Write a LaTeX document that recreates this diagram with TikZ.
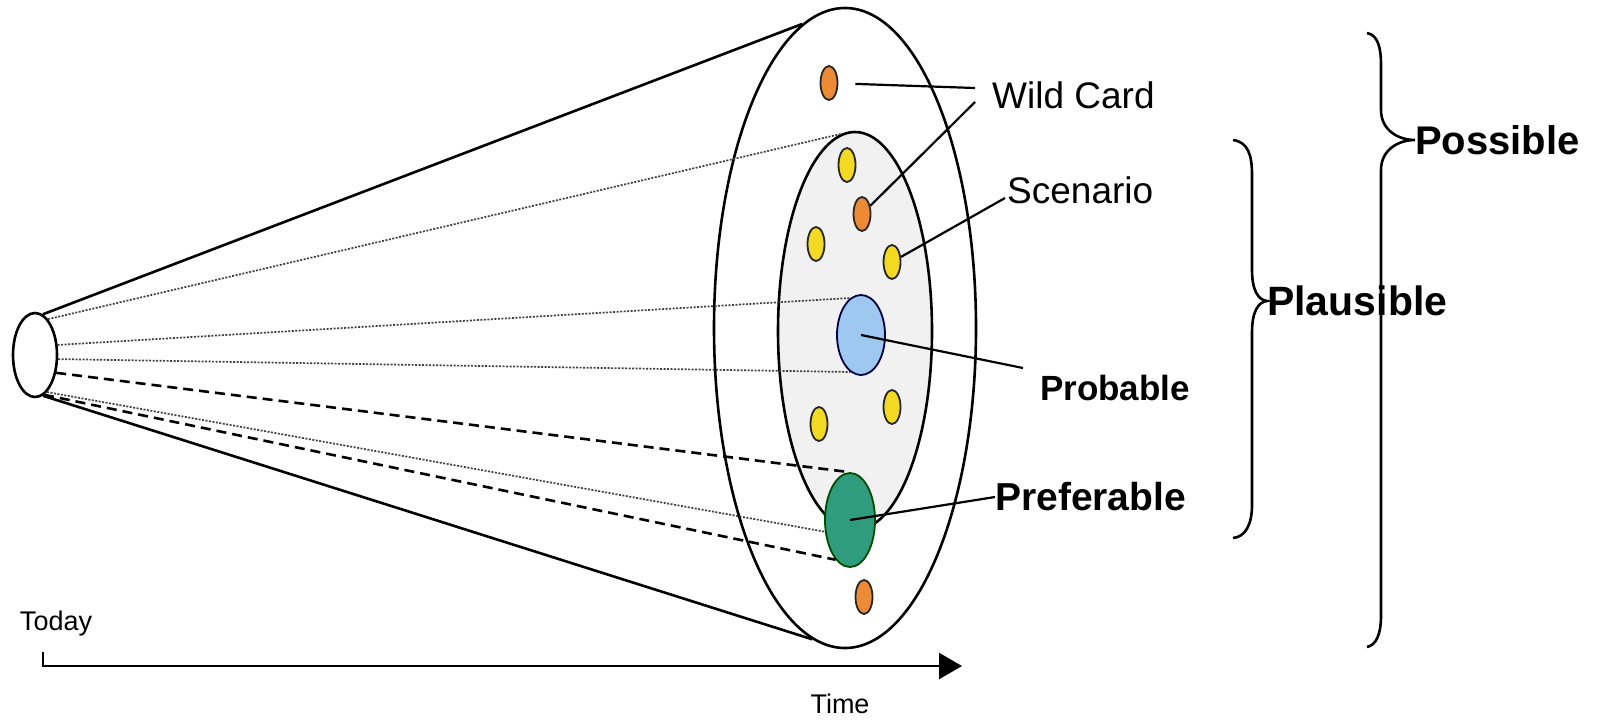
\documentclass[tikz,border=0pt]{standalone}
\usepackage{fontspec}
\setmainfont{Liberation Sans}
\usetikzlibrary{shapes.geometric}
\usetikzlibrary{arrows.meta}
\definecolor{dotorange}{HTML}{EC8A36}
\definecolor{dotyellow}{HTML}{F3D922}
\definecolor{probblue}{HTML}{9EC8F0}
\definecolor{prefgreen}{HTML}{2F9C7E}
\definecolor{innergray}{HTML}{F1F1F1}
\tikzset{rim/.style={ellipse, draw, line width=2.6pt, inner sep=0pt},
 disc/.style={ellipse, draw=black!85, line width=1.8pt, inner sep=0pt,
  minimum width=17pt, minimum height=34pt},
 wilddot/.style={disc, fill=dotorange},
 scendot/.style={disc, fill=dotyellow},
 lbl/.style={inner sep=0pt, anchor=west, font=\fontsize{37}{40}\selectfont},
 blbl/.style={inner sep=0pt, anchor=west},
 fine/.style={dash pattern=on 2pt off 1.5pt, line width=1.7pt, black!75},
 pathdash/.style={dash pattern=on 10pt off 6pt, line width=2.6pt},
 leader/.style={line width=2.2pt},
 bracket/.style={line width=2.6pt},
 }

\begin{document}
\begin{tikzpicture}[x=1pt, y=-1pt]
        \useasboundingbox[fill=white] (0,0) rectangle (1602,721);

        % the cone of futures
        \node[rim, fill=white, minimum width=262pt, minimum height=640pt] (outer) at (845,328) {};
        \node[rim, fill=innergray, minimum width=154pt, minimum height=398pt] (inner) at (855,331) {};
        \node[rim, minimum width=44pt, minimum height=84pt] (now) at (35,355) {};
        \draw[line width=2.6pt] (now.79) -- (outer.98);
        \draw[line width=2.6pt] (now.281) -- (outer.264);

        \node[disc, fill=probblue, draw=black!75!blue, minimum width=48pt, minimum height=80pt] (blue) at (861,335) {};
        \node[disc, fill=prefgreen, draw=black!70!green, minimum width=50pt, minimum height=94pt] (green) at (850,520) {};

        \draw[fine] (now.70) -- (inner.94);
        \draw[fine] (now.24) -- (blue.106);
        \draw[fine] (now.350) -- (blue.254);
        \draw[pathdash] (now.320) -- (green.91);
        \draw[fine] (now.288) -- (green.205);
        \draw[pathdash] (now.283) -- (green.250);

        \node[wilddot] (o1) at (829,83) {};
        \node[scendot] (y1) at (847,165) {};
        \node[wilddot] (o2) at (862,214) {};
        \node[scendot] (y2) at (816,244) {};
        \node[scendot] (y3) at (892,262) {};
        \node[scendot] (y4) at (819,424) {};
        \node[scendot] (y5) at (892,407) {};
        \node[wilddot] (o3) at (864,597) {};

        % labels
        \node[lbl] (wildlbl) at (992,95) {Wild Card};
        \node[lbl] (scenlbl) at (1007,190) {Scenario};
        \node[blbl, font=\fontsize{35}{38}\selectfont\bfseries] (problbl) at (1040,388) {Probable};
        \node[blbl, font=\fontsize{39}{42}\selectfont\bfseries] (preflbl) at (995,497) {Preferable};
        \node[blbl, font=\fontsize{41}{44}\selectfont\bfseries] (plauslbl) at (1267,301) {Plausible};
        \node[blbl, font=\fontsize{40}{44}\selectfont\bfseries] (posslbl) at (1415,140) {Possible};

        \draw[leader, shorten <=17pt] (o1) -- ([xshift=-17pt,yshift=7pt]wildlbl.west);
        \draw[leader] (o2) -- ([xshift=-17pt,yshift=-7pt]wildlbl.west);
        \draw[leader] (y3) -- ([xshift=-2pt,yshift=-8pt]scenlbl.west);
        \draw[leader] (blue.center) -- ([xshift=-17pt,yshift=20pt]problbl.west);
        \draw[leader] (green.center) -- (preflbl.west);

        % braces
        \draw[bracket] (1233,140) .. controls (1248,142) and (1252,155) .. (1252,175) -- (1252,270)
            .. controls (1252,290) and (1258,300) .. (plauslbl.west)
            .. controls (1258,302) and (1252,312) .. (1252,332) -- (1252,505)
            .. controls (1252,525) and (1245,537) .. (1233,538);
        \draw[bracket] (1367,33) .. controls (1378,35) and (1381,48) .. (1381,65) -- (1381,110)
            .. controls (1381,130) and (1398,140) .. (posslbl.west)
            .. controls (1398,140) and (1381,150) .. (1381,170) -- (1381,615)
            .. controls (1381,635) and (1376,645) .. (1367,647);

        % time axis
        \node[inner sep=0pt, font=\fontsize{27}{30}\selectfont] (today) at (56,624) {Today};
        \node[inner sep=0pt, font=\fontsize{27}{30}\selectfont] (timelbl) at (840,704) {Time};
        \coordinate (t0) at (43,652);
        \coordinate (t1) at (962,666);
        \draw[line width=2.6pt, -{Triangle[length=23pt,width=26pt]}] (t0) |- (t1);
    \end{tikzpicture}
\end{document}
